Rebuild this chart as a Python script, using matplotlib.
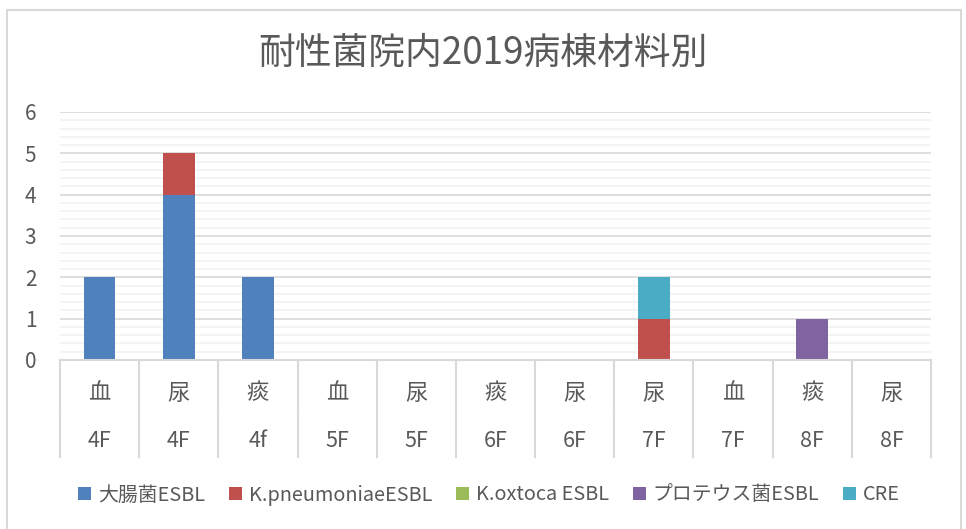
import numpy as np
import matplotlib
matplotlib.use("Agg")
import matplotlib.pyplot as plt
from matplotlib.patches import Rectangle
from matplotlib.ticker import MultipleLocator
import matplotlib.transforms as mtransforms

plt.rcParams['font.family'] = ['Noto Sans CJK JP', 'DejaVu Sans']

title = '耐性菌院内2019病棟材料別'
materials = ['血', '尿', '痰', '血', '尿', '痰', '尿', '尿', '血', '痰', '尿']
floors = ['4F', '4F', '4f', '5F', '5F', '6F', '6F', '7F', '7F', '8F', '8F']

series_names = ['大腸菌ESBL', 'K.pneumoniaeESBL', 'K.oxtoca ESBL', 'プロテウス菌ESBL', 'CRE']
ecoli = [2, 4, 2, 0, 0, 0, 0, 0, 0, 0, 0]
kpneu = [0, 1, 0, 0, 0, 0, 0, 1, 0, 0, 0]
koxy = [0, 0, 0, 0, 0, 0, 0, 0, 0, 0, 0]
proteus = [0, 0, 0, 0, 0, 0, 0, 0, 0, 1, 0]
cre = [0, 0, 0, 0, 0, 0, 0, 1, 0, 0, 0]
series_colors = ['#4F81BD', '#C0504D', '#9BBB59', '#8064A2', '#4BACC6']

text_color = '#595959'
W, H = 966, 529

fig = plt.figure(figsize=(W / 100, H / 100), dpi=100)
ax = fig.add_axes([60 / W, 1 - 360 / H, (931 - 60) / W, (360 - 112) / H])

x = np.arange(len(materials))
bottom = np.zeros(len(materials))
handles = []
for name, vals, col in zip(series_names, [ecoli, kpneu, koxy, proteus, cre], series_colors):
    vals = np.array(vals, dtype=float)
    b = ax.bar(x, vals, width=0.4, bottom=bottom, color=col, linewidth=0, label=name, zorder=3)
    handles.append(b)
    bottom += vals

ax.set_xlim(-0.5, len(materials) - 0.5)
ax.set_ylim(0, 6)
ax.yaxis.set_major_locator(MultipleLocator(1))
ax.yaxis.set_minor_locator(MultipleLocator(0.2))
ax.grid(axis='y', which='major', color='#D9D9D9', lw=1.2, zorder=1)
ax.grid(axis='y', which='minor', color='#F2F2F2', lw=1.2, zorder=0)
ax.set_axisbelow(True)
for s in ax.spines.values():
    s.set_visible(False)
ax.set_xticks([])
ax.tick_params(axis='y', which='both', length=0, pad=17, labelsize=15, labelcolor=text_color)

# category table under the axis
trans = mtransforms.blended_transform_factory(ax.transData, ax.transAxes)
ph = 360 - 112
ax.plot([-0.5, len(materials) - 0.5], [0, 0], color='#D9D9D9', lw=1.5, transform=trans, clip_on=False, zorder=4)
for i in range(len(materials) + 1):
    xi = i - 0.5
    ax.plot([xi, xi], [0, -48 / ph], color='#D9D9D9', lw=1.5, transform=trans, clip_on=False)
    ax.plot([xi, xi], [-50 / ph, -97 / ph], color='#D9D9D9', lw=1.5, transform=trans, clip_on=False)
for i, (m, f) in enumerate(zip(materials, floors)):
    ax.text(i, -33 / ph, m, transform=trans, ha='center', va='center', fontsize=16, color=text_color)
    ax.text(i, -81 / ph, f, transform=trans, ha='center', va='center', fontsize=15.5, color=text_color)

fig.text(0.5, 1 - 53 / H, title, ha='center', va='center', fontsize=26.5, color=text_color)

fig.legend(handles=handles, loc='center', bbox_to_anchor=(489 / W, 1 - 495 / H), ncol=5,
           frameon=False, fontsize=14.3, labelcolor=text_color, handlelength=0.65, handleheight=0.65,
           handletextpad=0.35, columnspacing=1.2)

fig.patches.append(Rectangle((7 / W, -0.01), (961 - 7) / W, 1 - 10 / H + 0.01, transform=fig.transFigure,
                             fill=False, edgecolor='#D9D9D9', lw=1.5))

fig.savefig('out.png', dpi=100)
